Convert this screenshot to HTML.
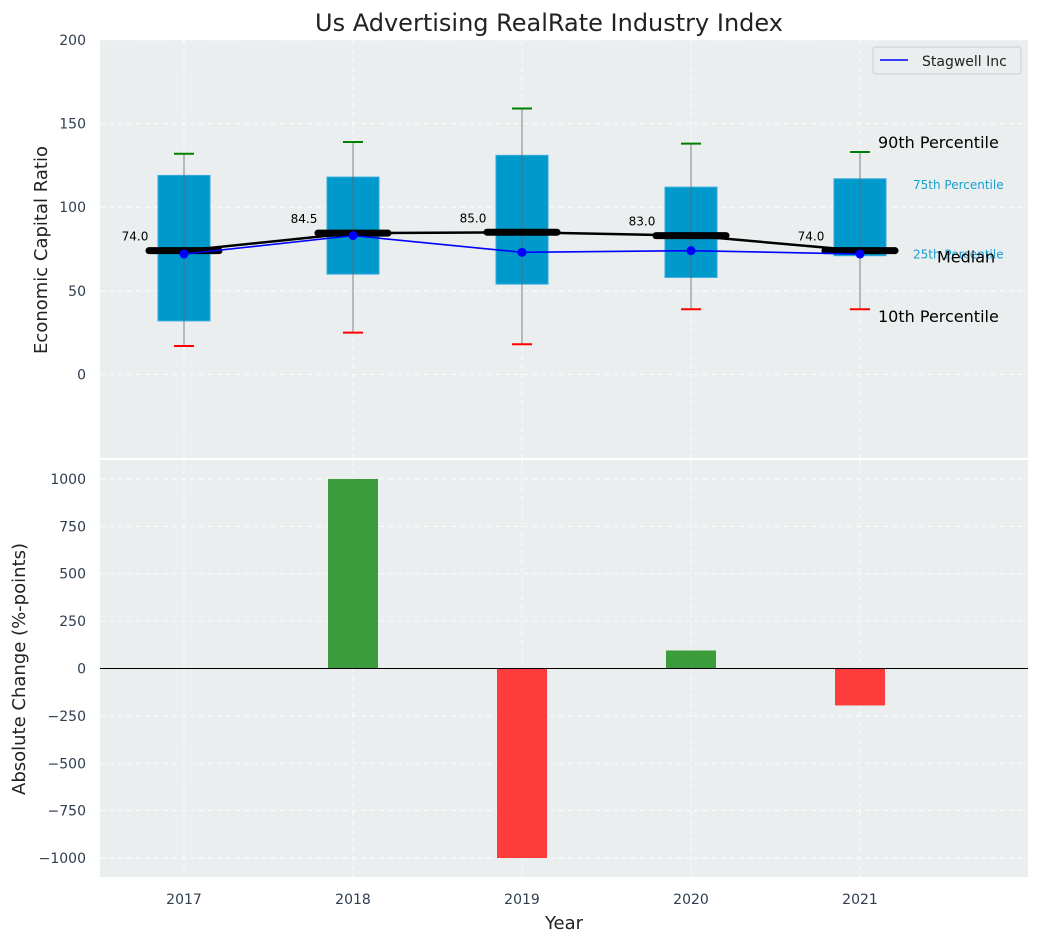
<!DOCTYPE html>
<html><head><meta charset="utf-8"><style>
body{margin:0;background:#fff;font-family:"Liberation Sans","DejaVu Sans",sans-serif}
</style></head><body>
<svg id="chart" width="1039" height="942" xmlns="http://www.w3.org/2000/svg" font-family="DejaVu Sans, Liberation Sans, sans-serif"></svg>
<script>
const years=[2017,2018,2019,2020,2021];
const p10=[17,25,18,39,39];
const p25=[32,60,54,58,71];
const medians=[74.0,84.5,85.0,83.0,74.0];
const p75=[119,118,131,112,117];
const p90=[132,139,159,138,133];
const company=[72,83,73,74,72];
const changes=[0,1000,-1000,95,-195];
const topTicks=[0,50,100,150,200];
const botTicks=[-1000,-750,-500,-250,0,250,500,750,1000];

const svg=document.getElementById('chart');
const NS='http://www.w3.org/2000/svg';
function el(t,a,parent){const e=document.createElementNS(NS,t);for(const k in a)e.setAttribute(k,a[k]);(parent||svg).appendChild(e);return e;}
const L=100,R=1028,T1=40,B1=458,T2=460,B2=877;
const x=i=>184+i*169;
const y1=v=>T1+(200-v)/250*(B1-T1);
const y2=v=>T2+(1100-v)/2200*(B2-T2);

const bg1=el('rect',{x:L,y:T1,width:R-L,height:B1-T1,fill:'#eaeeef'});


const bg2=el('rect',{x:L,y:T2,width:R-L,height:B2-T2,fill:'#eaeeef'});



years.forEach((yr,i)=>{
  el('line',{x1:x(i),x2:x(i),y1:T1,y2:B1,stroke:'#fff','stroke-dasharray':'5,4','stroke-width':0.8});
  el('line',{x1:x(i),x2:x(i),y1:T2,y2:B2,stroke:'#fff','stroke-dasharray':'5,4','stroke-width':0.8});
  const t=el('text',{x:x(i),y:904,'text-anchor':'middle','font-size':14,fill:'#2f3e50'});t.textContent=yr;
  
  
});
topTicks.forEach(v=>{
  el('line',{x1:L,x2:R,y1:y1(v),y2:y1(v),stroke:'#fff','stroke-dasharray':'5,4','stroke-width':0.8});
  const t=el('text',{x:86,y:y1(v)+5,'text-anchor':'end','font-size':14,fill:'#2f3e50'});t.textContent=v;
  
  
});
botTicks.forEach(v=>{
  el('line',{x1:L,x2:R,y1:y2(v),y2:y2(v),stroke:'#fff','stroke-dasharray':'5,4','stroke-width':0.8});
  const t=el('text',{x:86,y:y2(v)+5,'text-anchor':'end','font-size':14,fill:'#2f3e50'});t.textContent=(v<0?'\u2212'+(-v):v);
  
  
});

years.forEach((yr,i)=>{
  const b=el('rect',{x:x(i)-26,y:y1(p75[i]),width:52,height:y1(p25[i])-y1(p75[i]),fill:'#0099cc',stroke:'#33aadd','stroke-width':1});
  
  
  el('line',{x1:x(i),x2:x(i),y1:y1(p90[i]),y2:y1(p10[i]),stroke:'#666','stroke-width':1,opacity:0.8});
  el('line',{x1:x(i)-10,x2:x(i)+10,y1:y1(p90[i]),y2:y1(p90[i]),stroke:'green','stroke-width':2});
  el('line',{x1:x(i)-10,x2:x(i)+10,y1:y1(p10[i]),y2:y1(p10[i]),stroke:'red','stroke-width':2});
});
el('polyline',{points:years.map((_,i)=>x(i)+','+y1(medians[i])).join(' '),fill:'none',stroke:'#000','stroke-width':2.5});
years.forEach((yr,i)=>{
  const m=el('line',{x1:x(i)-35,x2:x(i)+35,y1:y1(medians[i]),y2:y1(medians[i]),stroke:'#000','stroke-width':7,'stroke-linecap':'round'});
  
  
  const t=el('text',{x:x(i)-49,y:y1(medians[i])-10,'text-anchor':'middle','font-size':12,fill:'#000'});t.textContent=medians[i].toFixed(1);
  
  
});
const cl=el('polyline',{points:years.map((_,i)=>x(i)+','+y1(company[i])).join(' '),fill:'none',stroke:'blue','stroke-width':1.6});


years.forEach((yr,i)=>{
  const c=el('circle',{cx:x(i),cy:y1(company[i]),r:4.5,fill:'blue'});
  
  
});
const lx=x(4);
[['90th Percentile',lx+18,y1(p90[4])-4,16,'#000'],['75th Percentile',lx+53,y1(p75[4])+10,12,'#1a9fcf'],['25th Percentile',lx+53,y1(p25[4])+3,12,'#1a9fcf'],['Median',lx+77,y1(medians[4])+12,16,'#000'],['10th Percentile',lx+18,y1(p10[4])+13,16,'#000']].forEach(a=>{
  const t=el('text',{x:a[1],y:a[2],'font-size':a[3],fill:a[4]});t.textContent=a[0];
  
  
});

years.forEach((yr,i)=>{
  const v=changes[i];
  const b=el('rect',{x:x(i)-25,y:Math.min(y2(v),y2(0)),width:50,height:Math.abs(y2(v)-y2(0)),fill:v>=0?'#3a9c3a':'#fd3c3c'});
  
  
});
el('line',{x1:L,x2:R,y1:y2(0),y2:y2(0),stroke:'#000','stroke-width':1});

const lg=el('g',{});


el('rect',{x:873,y:47,width:148,height:27,rx:3,fill:'#eaeeef',stroke:'#ccc'},lg);
el('line',{x1:880,x2:908,y1:60,y2:60,stroke:'blue','stroke-width':1.6},lg);
const lt=el('text',{x:922,y:66,'font-size':14,fill:'#222'},lg);lt.textContent='Stagwell Inc';

const ti=el('text',{x:549,y:31,'text-anchor':'middle','font-size':24,fill:'#222'});ti.textContent='Us Advertising RealRate Industry Index';


const yt=el('text',{x:47,y:250,'text-anchor':'middle','font-size':18,fill:'#222',transform:'rotate(-90 47 250)'});yt.textContent='Economic Capital Ratio';


const yb=el('text',{x:25,y:669,'text-anchor':'middle','font-size':18,fill:'#222',transform:'rotate(-90 25 669)'});yb.textContent='Absolute Change (%-points)';


const xt=el('text',{x:564,y:929,'text-anchor':'middle','font-size':18,fill:'#222'});xt.textContent='Year';


</script>
</body></html>
